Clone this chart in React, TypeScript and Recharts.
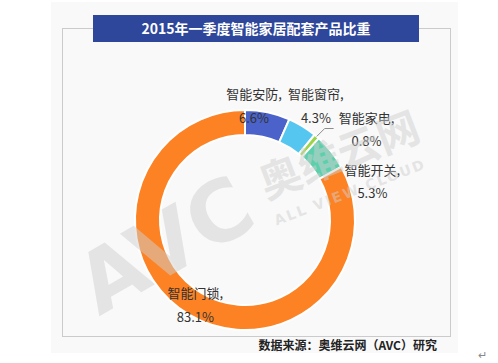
import React from "react";
import { Cell, Pie, PieChart } from "recharts";

// 2015年一季度智能家居配套产品比重
const categories = ["智能安防", "智能窗帘", "智能家电", "智能开关", "智能门锁"];
const shares = [6.6, 4.3, 0.8, 5.3, 83.1];
const colors = ["#4a62c9", "#55c6f0", "#9bd44a", "#5dcfab", "#fd8224"];

const data = categories.map((name, i) => ({ name, value: shares[i] }));

// label nudges from the ring middle, per slice
const labelNudge = [
  { dx: -11, dy: -31 },
  { dx: 20, dy: -43 },
  { dx: 58, dy: -29 },
  { dx: 51, dy: 10 },
  { dx: 0, dy: -11 },
];

const RAD = Math.PI / 180;
const FONT = "'Noto Sans CJK SC', 'Noto Sans', sans-serif";

function SliceLabel(props: any) {
  const { cx, cy, midAngle, innerRadius, outerRadius, index, name, value } = props;
  const r = (innerRadius + outerRadius) / 2;
  const cos = Math.cos(-midAngle * RAD);
  const sin = Math.sin(-midAngle * RAD);
  const x = cx + r * cos + labelNudge[index].dx;
  const y = cy + r * sin + labelNudge[index].dy;
  let leader = null;
  if (index === 2) {
    const ox = cx + outerRadius * cos;
    const oy = cy + outerRadius * sin;
    leader = (
      <polyline
        points={`${ox},${oy} ${ox + 8},${oy - 8} ${ox + 17},${oy - 8}`}
        fill="none"
        stroke="#8c8c8c"
        strokeWidth={1}
      />
    );
  }
  return (
    <g>
      {leader}
      <text x={x} y={y} textAnchor="middle" dominantBaseline="central" fontSize={13} fill="#333" fontFamily={FONT}>
        {name},
      </text>
      <text x={x} y={y + 23.5} textAnchor="middle" dominantBaseline="central" fontSize={13} fill="#333" fontFamily={FONT}>
        {value}%
      </text>
    </g>
  );
}

export default function App() {
  return (
    <div style={{ position: "absolute", left: 0, top: 0, width: 498, height: 363, background: "#fff", overflow: "hidden" }}>
      <div style={{ position: "absolute", left: 51, top: 2, width: 407, height: 351, background: "#f9f9f9" }} />
      <div style={{ position: "absolute", left: 62, top: 28, width: 387, height: 307, border: "1.5px solid #cbcbcb" }} />
      <div style={{ position: "absolute", left: 0, top: 0 }}>
        <PieChart width={498} height={363} margin={{ top: 0, right: 0, bottom: 0, left: 0 }}>
          <Pie
            data={data}
            dataKey="value"
            nameKey="name"
            cx={245}
            cy={220}
            innerRadius={85}
            outerRadius={110}
            startAngle={90}
            endAngle={-270}
            stroke="#ffffff"
            strokeWidth={2}
            label={SliceLabel}
            labelLine={false}
            isAnimationActive={false}
          >
            {data.map((d, i) => (
              <Cell key={d.name} fill={colors[i]} />
            ))}
          </Pie>
        </PieChart>
      </div>
      <svg width={498} height={363} style={{ position: "absolute", left: 0, top: 0, pointerEvents: "none" }}>
        <g fill="#cfcfcf" fillOpacity={0.5} fontFamily="'DejaVu Sans', sans-serif" fontWeight="bold">
          <text x={165} y={245} fontSize={84} textAnchor="middle" dominantBaseline="central" transform="rotate(-30 165 245)">
            AVC
          </text>
          <text x={338} y={152} fontSize={42} textAnchor="middle" dominantBaseline="central" fontFamily={FONT} transform="rotate(-21 338 152)">
            奥维云网
          </text>
          <text x={350} y={192} fontSize={14} textAnchor="middle" dominantBaseline="central" letterSpacing={2} transform="rotate(-21 350 192)">
            ALL VIEW CLOUD
          </text>
        </g>
      </svg>
      <div
        style={{
          position: "absolute",
          left: 93,
          top: 15,
          width: 326,
          height: 27,
          background: "#2f479b",
          color: "#fff",
          fontFamily: FONT,
          fontWeight: "bold",
          fontSize: 14,
          lineHeight: "27px",
          textAlign: "center",
        }}
      >
        2015年一季度智能家居配套产品比重
      </div>
      <div
        style={{
          position: "absolute",
          right: 61,
          top: 336,
          fontFamily: FONT,
          fontWeight: "bold",
          fontSize: 12,
          lineHeight: "18px",
          color: "#222",
          whiteSpace: "nowrap",
        }}
      >
        数据来源：奥维云网（AVC）研究
      </div>
      <div style={{ position: "absolute", left: 478, top: 346, fontSize: 11, color: "#888", fontFamily: FONT }}>↵</div>
    </div>
  );
}
